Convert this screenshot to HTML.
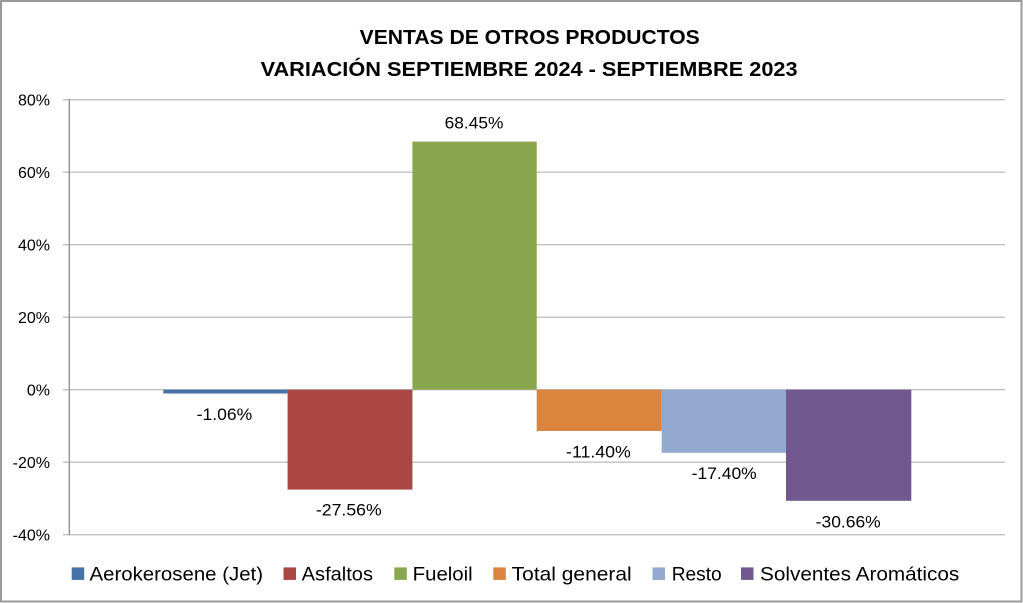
<!DOCTYPE html>
<html>
<head>
<meta charset="utf-8">
<style>
  html, body { margin:0; padding:0; background:#fff; }
  svg { display:block; }
  text { font-family: "Liberation Sans", "DejaVu Sans", sans-serif; fill:#000; }
</style>
</head>
<body>
<svg width="1023" height="603" viewBox="0 0 1023 603" xmlns="http://www.w3.org/2000/svg">
  <rect x="0" y="0" width="1023" height="603" fill="#fff"/>
  <!-- outer border -->
  <rect x="1" y="1" width="1020.5" height="600.5" fill="none" stroke="#9a9a9a" stroke-width="2"/>

  <!-- title -->
  <text x="529.7" y="44" font-size="20.5" font-weight="bold" text-anchor="middle" textLength="340" lengthAdjust="spacingAndGlyphs">VENTAS DE OTROS PRODUCTOS</text>
  <text x="529.1" y="76" font-size="20.5" font-weight="bold" text-anchor="middle" textLength="537" lengthAdjust="spacingAndGlyphs">VARIACIÓN SEPTIEMBRE 2024 - SEPTIEMBRE 2023</text>

  <!-- gridlines -->
  <g stroke="#c0c0c0" stroke-width="1.3">
    <line x1="63" y1="99.7" x2="1005" y2="99.7"/>
    <line x1="63" y1="172.2" x2="1005" y2="172.2"/>
    <line x1="63" y1="244.7" x2="1005" y2="244.7"/>
    <line x1="63" y1="317.2" x2="1005" y2="317.2"/>
    <line x1="63" y1="389.7" x2="1005" y2="389.7"/>
    <line x1="63" y1="462.2" x2="1005" y2="462.2"/>
    <line x1="63" y1="534.7" x2="1005" y2="534.7"/>
  </g>
  <!-- y axis -->
  <line x1="69.3" y1="99" x2="69.3" y2="535.3" stroke="#8a8a8a" stroke-width="1.3"/>

  <!-- y tick labels -->
  <g font-size="16" text-anchor="end">
    <text x="50" y="105.4">80%</text>
    <text x="50" y="177.9">60%</text>
    <text x="50" y="250.4">40%</text>
    <text x="50" y="322.9">20%</text>
    <text x="50" y="395.4">0%</text>
    <text x="50" y="467.9">-20%</text>
    <text x="50" y="540.4">-40%</text>
  </g>

  <!-- bars -->
  <rect x="163.3" y="389.7" width="124.3" height="3.8" fill="#4572A7"/>
  <rect x="287.6" y="389.7" width="124.8" height="99.9" fill="#AA4643"/>
  <rect x="412.4" y="141.6" width="124.3" height="248.1" fill="#89A54E"/>
  <rect x="536.7" y="389.7" width="125" height="41.3" fill="#DB843D"/>
  <rect x="661.7" y="389.7" width="124.3" height="63.1" fill="#93A9CF"/>
  <rect x="786" y="389.7" width="125.3" height="111.1" fill="#71588F"/>

  <!-- data labels -->
  <g font-size="16.5" text-anchor="middle" fill="#000">
    <text x="474" y="128.3" textLength="58.8" lengthAdjust="spacingAndGlyphs">68.45%</text>
    <text x="224.5" y="420" textLength="55.6" lengthAdjust="spacingAndGlyphs">-1.06%</text>
    <text x="348.8" y="515.7" textLength="65.7" lengthAdjust="spacingAndGlyphs">-27.56%</text>
    <text x="598.4" y="457.3" textLength="64.7" lengthAdjust="spacingAndGlyphs">-11.40%</text>
    <text x="724.2" y="479" textLength="65" lengthAdjust="spacingAndGlyphs">-17.40%</text>
    <text x="848.2" y="527.3" textLength="65" lengthAdjust="spacingAndGlyphs">-30.66%</text>
  </g>

  <!-- legend -->
  <g>
    <rect x="71.7" y="567.4" width="12.5" height="12.5" fill="#4572A7"/>
    <rect x="283.5" y="567.4" width="12.5" height="12.5" fill="#AA4643"/>
    <rect x="394.3" y="567.4" width="12.5" height="12.5" fill="#89A54E"/>
    <rect x="493.3" y="567.4" width="12.5" height="12.5" fill="#DB843D"/>
    <rect x="652.5" y="567.4" width="12.5" height="12.5" fill="#93A9CF"/>
    <rect x="741" y="567.4" width="12.5" height="12.5" fill="#71588F"/>
  </g>
  <g font-size="19.5">
    <text x="89.5" y="580.7" textLength="173.5" lengthAdjust="spacingAndGlyphs">Aerokerosene (Jet)</text>
    <text x="301.7" y="580.7" textLength="71.3" lengthAdjust="spacingAndGlyphs">Asfaltos</text>
    <text x="412.7" y="580.7" textLength="60" lengthAdjust="spacingAndGlyphs">Fueloil</text>
    <text x="511.7" y="580.7" textLength="120" lengthAdjust="spacingAndGlyphs">Total general</text>
    <text x="671.7" y="580.7" textLength="50" lengthAdjust="spacingAndGlyphs">Resto</text>
    <text x="760" y="580.7" textLength="199.3" lengthAdjust="spacingAndGlyphs">Solventes Aromáticos</text>
  </g>
</svg>
</body>
</html>
